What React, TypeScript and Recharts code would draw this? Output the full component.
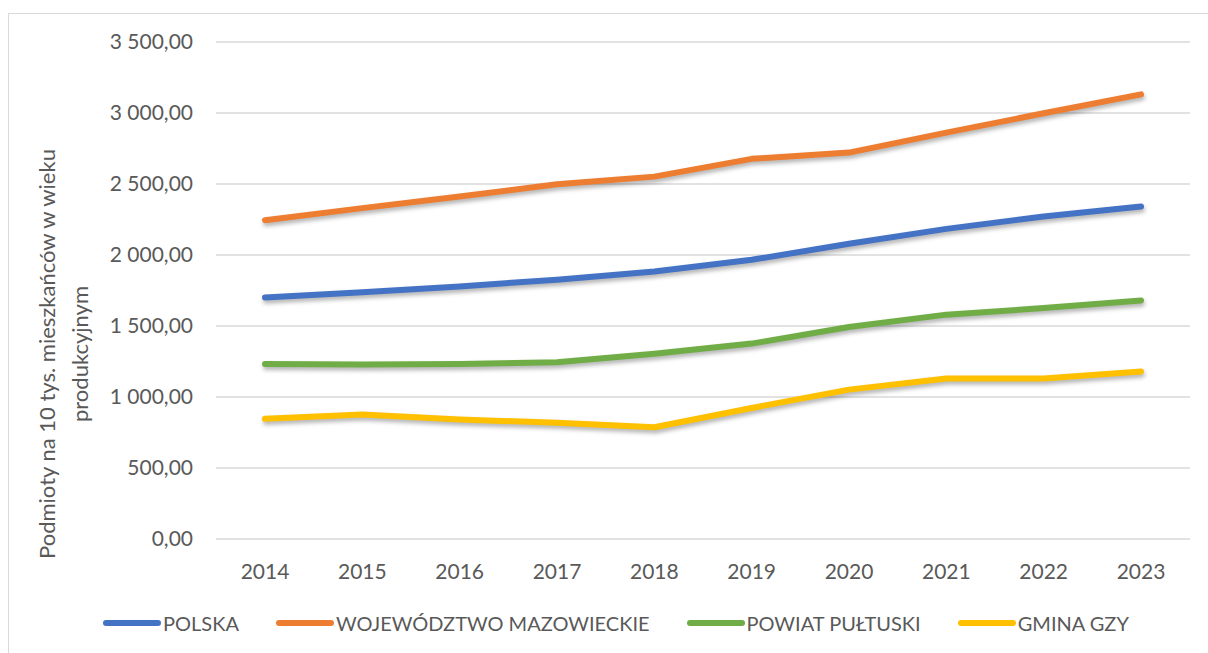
import { LineChart, Line, XAxis, YAxis, CartesianGrid, Label } from 'recharts';

const years = ['2014', '2015', '2016', '2017', '2018', '2019', '2020', '2021', '2022', '2023'];
const polska = [1701, 1737, 1779, 1826, 1884, 1966, 2079, 2184, 2271, 2341];
const mazowieckie = [2245, 2330, 2412, 2498, 2552, 2677, 2721, 2862, 2998, 3131];
const pultuski = [1233, 1228, 1233, 1244, 1305, 1376, 1493, 1580, 1626, 1680];
const gzy = [846, 876, 842, 818, 787, 923, 1052, 1130, 1130, 1179];
const yTicks = [0, 500, 1000, 1500, 2000, 2500, 3000, 3500];

const series = [
  { key: 'polska', name: 'POLSKA', color: '#4472C4' },
  { key: 'mazowieckie', name: 'WOJEWÓDZTWO MAZOWIECKIE', color: '#ED7D31' },
  { key: 'pultuski', name: 'POWIAT PUŁTUSKI', color: '#70AD47' },
  { key: 'gzy', name: 'GMINA GZY', color: '#FFC000' },
];

const data = years.map((year, i) => ({
  year,
  polska: polska[i],
  mazowieckie: mazowieckie[i],
  pultuski: pultuski[i],
  gzy: gzy[i],
}));

const FONT = 'Lato, "Open Sans", sans-serif';
const TEXT = '#595959';

// "3 500,00" style (Polish number format)
const fmt = (v: number) => {
  const parts = v.toFixed(2).split('.');
  return parts[0].replace(/\B(?=(\d{3})+(?!\d))/g, ' ') + ',' + parts[1];
};

const renderYLabel = () => (
  <g fill={TEXT} fontFamily={FONT} fontSize={22}>
    <text x={37} y={340} transform="rotate(-90, 37, 340)" textAnchor="middle" dominantBaseline="central">
      Podmioty na 10 tys. mieszkańców w wieku
    </text>
    <text x={70} y={340} transform="rotate(-90, 70, 340)" textAnchor="middle" dominantBaseline="central">
      produkcyjnym
    </text>
  </g>
);

export default function App() {
  return (
    <div
      style={{
        position: 'fixed',
        left: 0,
        top: 0,
        width: 1208,
        height: 653,
        overflow: 'hidden',
        background: '#fff',
      }}
    >
      <div
        style={{
          position: 'absolute',
          left: 8,
          top: 13,
          width: 1220,
          height: 660,
          border: '1px solid #d9d9d9',
          background: '#fff',
        }}
      >
        <LineChart width={1199} height={631} data={data} margin={{ top: 28, right: 18, bottom: 66, left: 0 }}>
          <CartesianGrid vertical={false} stroke="#d9d9d9" strokeWidth={1.3} />
          <XAxis
            dataKey="year"
            padding={{ left: 49, right: 49 }}
            axisLine={false}
            tickLine={false}
            tickSize={0}
            tickMargin={25}
            height={40}
            tick={{ fill: TEXT, fontSize: 21, fontFamily: FONT }}
          />
          <YAxis
            width={207}
            domain={[0, 3500]}
            ticks={yTicks}
            tickFormatter={fmt}
            axisLine={false}
            tickLine={false}
            tickSize={0}
            tickMargin={23}
            tick={{ fill: TEXT, fontSize: 21, fontFamily: FONT }}
          >
            <Label content={renderYLabel} />
          </YAxis>
          {series.map((s) => (
            <Line
              key={s.key}
              type="linear"
              dataKey={s.key}
              name={s.name}
              stroke={s.color}
              strokeWidth={6}
              strokeLinecap="round"
              strokeLinejoin="round"
              dot={false}
              activeDot={false}
              style={{ filter: 'drop-shadow(1.5px 3px 2px rgba(0,0,0,0.3))' }}
              isAnimationActive={false}
            />
          ))}
        </LineChart>
        <div
          style={{
            position: 'absolute',
            left: 94,
            top: 597,
            display: 'flex',
            alignItems: 'center',
            fontFamily: FONT,
            fontSize: 20,
            color: TEXT,
            whiteSpace: 'nowrap',
          }}
        >
          {series.map((s) => (
            <div key={s.key} style={{ display: 'flex', alignItems: 'center', marginRight: 37 }}>
              <span
                style={{ display: 'inline-block', width: 58, height: 6, borderRadius: 3, background: s.color, marginRight: 2 }}
              />
              <span>{s.name}</span>
            </div>
          ))}
        </div>
      </div>
    </div>
  );
}
